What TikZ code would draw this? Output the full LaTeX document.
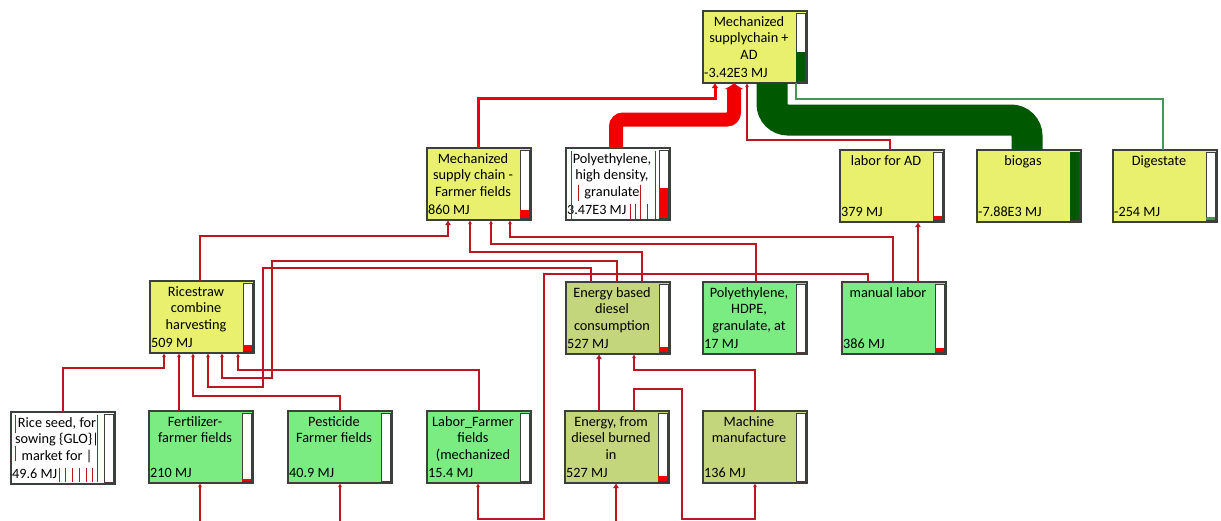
\documentclass[tikz,border=0pt]{standalone}
\usepackage{fontspec}
\setmainfont{Carlito}
\usepackage{tikz}
\usetikzlibrary{positioning, arrows.meta}

\definecolor{boxyellow}{RGB}{232,240,110}
\definecolor{boxgreen}{RGB}{122,236,130}
\definecolor{boxolive}{RGB}{196,214,124}
\definecolor{boxedge}{RGB}{60,64,60}
\definecolor{gasgreen}{RGB}{0,88,0}
\definecolor{diggreen}{RGB}{70,150,85}
\definecolor{wirered}{RGB}{185,25,30}
\definecolor{hotred}{RGB}{240,0,0}

\tikzset{
	procbox/.style={draw=boxedge, line width=1.5pt, anchor=north west, minimum width=104pt, minimum height=72pt, inner sep=0pt, outer sep=0pt},
	proctitle/.style={anchor=north, align=center, inner sep=0pt, font=\fontsize{14.3}{16.7}\selectfont},
	procval/.style={anchor=base west, inner sep=0pt, font=\fontsize{14.2}{16.7}\selectfont},
	barframe/.style={draw=boxedge, line width=1pt, fill=white},
	wire/.style={draw=wirered, line width=1.3pt, -{Latex[length=4pt,width=4pt]}},
	wirethick/.style={draw=wirered, line width=2.6pt, -{Latex[length=5pt,width=6pt]}},
	wirebig/.style={draw=hotred, line width=3pt, -{Latex[length=5pt,width=7pt]}},
	pebig/.style={draw=hotred, line width=14pt, rounded corners=7pt, -{Latex[length=6pt,width=20pt]}},
	gasband/.style={draw=gasgreen, line width=31pt, rounded corners=16pt},
	digwire/.style={draw=diggreen, line width=1.2pt},
	hatch/.style={draw=wirered, line width=0.9pt}
}

% name, x, y, fill, title, value, bar height, bar colour
\newcommand{\mkproc}[8]{%
	\node[procbox, fill=#4] (#1) at (#2,#3) {};
	\node[proctitle] (#1-t) at ([xshift=-6pt,yshift=-5pt]#1.north) {#5};
	\node[procval] (#1-v) at ([xshift=1pt,yshift=6pt]#1.south west) {#6};
	\draw[barframe] ([xshift=-11pt,yshift=-2pt]#1.north east) rectangle ([xshift=-2pt,yshift=2pt]#1.south east);
	\fill[#8] ([xshift=-11pt,yshift=2pt]#1.south east) rectangle ++(9pt,#7pt);
}

\begin{document}
\begin{tikzpicture}[x=1pt, y=-1pt]
	\useasboundingbox (0,0) rectangle (1221,520);
	\clip (0,0) rectangle (1221,520);

	% processes
	\mkproc{top}{703}{11}{boxyellow}{Mechanized\\supplychain +\\AD}{-3.42E3 MJ}{29}{gasgreen}
	\mkproc{ff}{427}{148}{boxyellow}{Mechanized\\supply chain -\\Farmer fields}{860 MJ}{8}{hotred}
	\mkproc{pehd}{566}{148}{white}{Polyethylene,\\high density,\\granulate}{3.47E3 MJ}{30}{hotred}
	\mkproc{labad}{840}{150}{boxyellow}{labor for AD}{379 MJ}{4}{hotred}
	\mkproc{biogas}{977}{150}{boxyellow}{biogas}{-7.88E3 MJ}{68}{gasgreen}
	\mkproc{digest}{1113}{150}{boxyellow}{Digestate}{-254 MJ}{3}{diggreen}
	\mkproc{rice}{150}{281}{boxyellow}{Ricestraw\\combine\\harvesting}{509 MJ}{6}{hotred}
	\mkproc{ediesel}{566}{282}{boxolive}{Energy based\\diesel\\consumption}{527 MJ}{5}{hotred}
	\mkproc{pehdpe}{703}{282}{boxgreen}{Polyethylene,\\HDPE,\\granulate, at}{17 MJ}{0}{hotred}
	\mkproc{manual}{842}{282}{boxgreen}{manual labor}{386 MJ}{4}{hotred}
	\mkproc{seed}{11}{412}{white}{Rice seed, for\\sowing \{GLO\}|\\market for |}{49.6 MJ}{0}{hotred}
	\mkproc{fert}{149}{411}{boxgreen}{Fertilizer-\\farmer fields}{210 MJ}{2}{hotred}
	\mkproc{pest}{288}{411}{boxgreen}{Pesticide\\Farmer fields}{40.9 MJ}{0}{hotred}
	\mkproc{labff}{427}{411}{boxgreen}{Labor\_Farmer\\fields\\(mechanized}{15.4 MJ}{0}{hotred}
	\mkproc{eburn}{565}{411}{boxolive}{Energy, from\\diesel burned\\in}{527 MJ}{5}{hotred}
	\mkproc{machine}{703}{411}{boxolive}{Machine\\manufacture}{136 MJ}{0}{hotred}

	% hatching in the two white boxes
	\foreach \hx/\ya/\yb in {571/151/219, 655/151/219, 578/185/201, 640/185/219, 630/204/219, 635/204/219, 647/204/219}
		\draw[hatch] (\hx,\ya) -- (\hx,\yb);
	\foreach \hx/\ya/\yb in {15/415/433, 15/446/461, 97/415/482, 59/468/482, 65/468/482, 72/468/482, 79/468/482, 86/468/482, 92/468/482}
		\draw[hatch] (\hx,\ya) -- (\hx,\yb);

	% into the top process
	\draw[gasband] ([xshift=69pt]top.south west) |- ([xshift=50pt,yshift=30pt]biogas.north west) -- ([xshift=50pt]biogas.north west);
	\draw[digwire] ([xshift=93pt]top.south west) |- ([xshift=50pt,yshift=51pt]digest.north west) -- ([xshift=50pt]digest.north west);
	\draw[wirebig] ([xshift=51pt]ff.north west) |- ([xshift=12pt,yshift=-15pt]top.south west) -- ([xshift=12pt]top.south west);
	\draw[pebig] ([xshift=50pt]pehd.north west) |- ([xshift=31pt,yshift=-36.5pt]top.south west) -- ([xshift=31pt]top.south west);
	\draw[wire, line width=2pt] ([xshift=50pt]labad.north west) |- ([xshift=44pt,yshift=-57pt]top.south west) -- ([xshift=44pt]top.south west);

	% into farmer fields and labor for AD
	\draw[wirethick] ([xshift=50pt]rice.north west) |- ([xshift=21pt,yshift=-16pt]ff.south west) -- ([xshift=21pt]ff.south west);
	\draw[wire] ([xshift=76pt]ediesel.north west) |- ([xshift=43pt,yshift=-32pt]ff.south west) -- ([xshift=43pt]ff.south west);
	\draw[wire] ([xshift=53pt]pehdpe.north west) |- ([xshift=64pt,yshift=-24pt]ff.south west) -- ([xshift=64pt]ff.south west);
	\draw[wire] ([xshift=51pt]manual.north west) |- ([xshift=83pt,yshift=-17pt]ff.south west) -- ([xshift=83pt]ff.south west);
	\draw[wirethick] ([xshift=76pt]manual.north west) -- ([xshift=76pt]manual.north west |- labad.south);

	% into ricestraw harvesting
	\draw[wire] ([xshift=51pt]ediesel.north west) |- (272,261) |- ([xshift=72pt,yshift=-25pt]rice.south west) -- ([xshift=72pt]rice.south west);
	\draw[wire] ([xshift=25pt]ediesel.north west) |- (263,268) |- ([xshift=58pt,yshift=-34pt]rice.south west) -- ([xshift=58pt]rice.south west);
	\draw[wire] ([xshift=52pt]seed.north west) |- ([xshift=14pt,yshift=-15pt]rice.south west) -- ([xshift=14pt]rice.south west);
	\draw[wire] ([xshift=30pt]fert.north west) -- ([xshift=30pt]fert.north west |- rice.south);
	\draw[wire] ([xshift=52pt]pest.north west) |- ([xshift=43pt,yshift=-43pt]rice.south west) -- ([xshift=43pt]rice.south west);
	\draw[wire] ([xshift=52pt]labff.north west) |- ([xshift=88pt,yshift=-17pt]rice.south west) -- ([xshift=88pt]rice.south west);

	% into the lower row
	\draw[wire] ([xshift=26pt]manual.north west) |- (544,274) |- ([xshift=51pt,yshift=-36pt]labff.south west) -- ([xshift=51pt]labff.south west);
	\draw[wirethick] ([xshift=34pt]eburn.north west) -- ([xshift=34pt]eburn.north west |- ediesel.south);
	\draw[wire] ([xshift=52pt]machine.north west) |- ([xshift=68pt,yshift=-16pt]ediesel.south west) -- ([xshift=68pt]ediesel.south west);
	\draw[wire] ([xshift=69pt]eburn.north west) |- (682,389) |- ([xshift=52pt,yshift=-36pt]machine.south west) -- ([xshift=52pt]machine.south west);

	% from below the frame
	\coordinate (fertin) at (200,530);
	\coordinate (pestin) at (340,530);
	\coordinate (burnin) at (616,530);
	\draw[wire] (fertin) -- (fertin |- fert.south);
	\draw[wire] (pestin) -- (pestin |- pest.south);
	\draw[wirethick] (burnin) -- (burnin |- eburn.south);
\end{tikzpicture}
\end{document}
